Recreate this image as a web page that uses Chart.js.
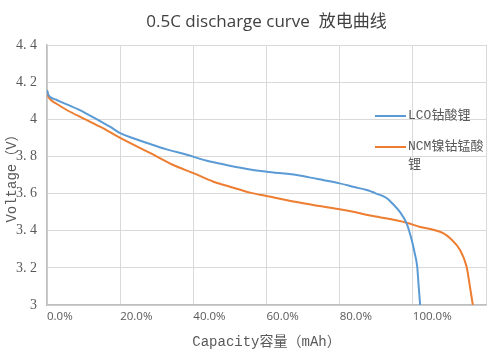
<!DOCTYPE html>
<html>
<head>
<meta charset="utf-8">
<script src="https://cdn.jsdelivr.net/npm/chart.js@4"></script>
<style>
html,body{margin:0;padding:0;background:#fff;}
#wrap{width:500px;height:356px;position:relative;}
</style>
</head>
<body>
<div id="wrap"><canvas id="c" width="500" height="356"></canvas></div>
<script>
// ---- data (capacity as fraction of nominal, voltage in V) ----
const titleText = '0.5C discharge curve  放电曲线';
const xTitle = 'Capacity容量（mAh）';
const yTitle = 'Voltage（V）';
const seriesNames = ['LCO钴酸锂', 'NCM镍钴锰酸锂'];

const lcoCap = [0, 0.003, 0.01, 0.025, 0.054, 0.099, 0.145, 0.172, 0.20, 0.236, 0.28, 0.327, 0.38, 0.437, 0.491, 0.555, 0.60, 0.683, 0.74, 0.80, 0.84, 0.874, 0.90, 0.929, 0.945, 0.965, 0.983, 0.997, 1.005, 1.012, 1.016, 1.02];
const lcoVolt = [4.158, 4.135, 4.118, 4.105, 4.08, 4.04, 3.99, 3.96, 3.925, 3.898, 3.868, 3.838, 3.81, 3.777, 3.754, 3.73, 3.718, 3.70, 3.678, 3.655, 3.635, 3.619, 3.60, 3.575, 3.545, 3.50, 3.44, 3.35, 3.28, 3.206, 3.10, 3.0];

const ncmCap = [0, 0.003, 0.01, 0.025, 0.054, 0.099, 0.145, 0.20, 0.28, 0.345, 0.40, 0.455, 0.50, 0.555, 0.60, 0.70, 0.80, 0.892, 0.983, 1.02, 1.056, 1.084, 1.102, 1.129, 1.147, 1.156, 1.164];
const ncmVolt = [4.158, 4.125, 4.105, 4.085, 4.05, 4.005, 3.96, 3.90, 3.82, 3.754, 3.71, 3.664, 3.637, 3.605, 3.587, 3.548, 3.515, 3.479, 3.443, 3.420, 3.405, 3.386, 3.359, 3.296, 3.206, 3.10, 3.0];

const xTickLabels = ['0.0%', '20.0%', '40.0%', '60.0%', '80.0%', '100.0%', ''];
const yTickLabels = ['3', '3. 2', '3. 4', '3. 6', '3. 8', '4', '4. 2', '4. 4'];

const colors = ['#5B9BD5', '#ED7D31'];

function toPoints(xs, ys) { return xs.map((x, i) => ({x: x, y: ys[i]})); }

const legendInPlot = {
  id: 'legendInPlot',
  afterDraw(chart) {
    const ctx = chart.ctx;
    const ca = chart.chartArea;
    const font = '13px "Liberation Mono", "Noto Sans CJK SC", sans-serif';
    const lineX0 = ca.right - 111, lineX1 = ca.right - 80, textX = ca.right - 78;
    const maxW = ca.right - textX + 2;
    const rowYs = [ca.top + 71, ca.top + 102];
    ctx.save();
    ctx.font = font;
    ctx.textBaseline = 'middle';
    ctx.textAlign = 'left';
    chart.data.datasets.forEach((ds, i) => {
      const y = rowYs[i];
      ctx.strokeStyle = ds.borderColor;
      ctx.lineWidth = 2;
      ctx.beginPath(); ctx.moveTo(lineX0, y); ctx.lineTo(lineX1, y); ctx.stroke();
      ctx.fillStyle = '#595959';
      const lines = []; let cur = '';
      for (const ch of ds.label) {
        if (ctx.measureText(cur + ch).width > maxW && cur) { lines.push(cur); cur = ch; }
        else cur += ch;
      }
      lines.push(cur);
      lines.forEach((t, k) => ctx.fillText(t, textX, y + k * 18));
    });
    ctx.restore();
  }
};

new Chart(document.getElementById('c'), {
  type: 'line',
  data: {
    datasets: [
      {label: seriesNames[0], data: toPoints(lcoCap, lcoVolt), borderColor: colors[0], backgroundColor: colors[0], borderWidth: 2, pointRadius: 0, cubicInterpolationMode: 'monotone', fill: false},
      {label: seriesNames[1], data: toPoints(ncmCap, ncmVolt), borderColor: colors[1], backgroundColor: colors[1], borderWidth: 2, pointRadius: 0, cubicInterpolationMode: 'monotone', fill: false}
    ]
  },
  options: {
    responsive: false,
    animation: false,
    devicePixelRatio: 1,
    layout: {padding: {left: 0, right: 14, top: 0, bottom: 0}},
    plugins: {
      legend: {display: false},
      tooltip: {enabled: false},
      title: {
        display: true, text: titleText, color: '#404040', fullSize: false,
        font: {family: '"Open Sans", "Noto Sans CJK SC", sans-serif', size: 17, weight: 'normal', lineHeight: 1.2},
        padding: {top: 12, bottom: 12.6}
      }
    },
    scales: {
      x: {
        type: 'linear', min: 0, max: 1.2,
        afterFit(s) { s.height = 51; },
        ticks: {
          stepSize: 0.2, align: 'start', padding: 5, color: '#595959', maxRotation: 0, autoSkip: false,
          font: {family: '"Open Sans", sans-serif', size: 11.5},
          callback: (v, i) => xTickLabels[i]
        },
        grid: {color: '#d9d9d9', lineWidth: 1, drawTicks: false},
        border: {color: '#bfbfbf', width: 1.5},
        title: {
          display: true, text: xTitle, color: '#595959',
          font: {family: '"Liberation Mono", "Noto Sans CJK SC", monospace', size: 14, lineHeight: 1.2},
          padding: {top: 0, bottom: 5}
        }
      },
      y: {
        min: 3, max: 4.4,
        afterFit(s) { s.width = 47; },
        ticks: {
          stepSize: 0.2, padding: 10, color: '#595959',
          font: {family: '"Liberation Serif", serif', size: 14},
          callback: (v, i) => yTickLabels[i]
        },
        grid: {color: '#d9d9d9', lineWidth: 1, drawTicks: false},
        border: {color: '#bfbfbf', width: 1.5},
        title: {
          display: true, text: yTitle, color: '#595959',
          font: {family: '"Liberation Mono", "Noto Sans CJK SC", monospace', size: 14, lineHeight: 1.2},
          padding: {top: 4, bottom: 0}
        }
      }
    }
  },
  plugins: [legendInPlot]
});
</script>
</body>
</html>
